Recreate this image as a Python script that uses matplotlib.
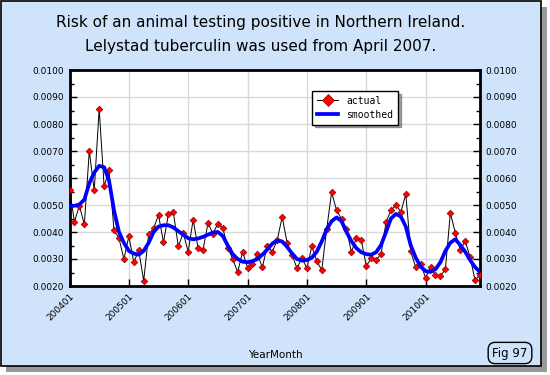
import numpy as np
import matplotlib.pyplot as plt
from matplotlib.patches import Rectangle
from matplotlib.ticker import MultipleLocator, FormatStrFormatter

# -----------------------------------
# Data (monthly, 200401 - 201012)
# -----------------------------------
year_month = [f"{2004 + i // 12}{i % 12 + 1:02d}" for i in range(84)]

tick_labels = ["200401", "200501", "200601", "200701", "200801", "200901", "201001"]

actual = [
    0.00557, 0.00438, 0.00497, 0.00428, 0.00700, 0.00554, 0.00856, 0.00569,
    0.00628, 0.00406, 0.00377, 0.00300, 0.00384, 0.00288, 0.00332, 0.00219,
    0.00391, 0.00414, 0.00463, 0.00362, 0.00466, 0.00473, 0.00347, 0.00396,
    0.00327, 0.00446, 0.00340, 0.00334, 0.00433, 0.00394, 0.00431, 0.00414,
    0.00342, 0.00300, 0.00251, 0.00327, 0.00268, 0.00280, 0.00317, 0.00270,
    0.00349, 0.00327, 0.00370, 0.00456, 0.00360, 0.00315, 0.00266, 0.00303,
    0.00266, 0.00347, 0.00293, 0.00258, 0.00411, 0.00547, 0.00480, 0.00448,
    0.00410, 0.00326, 0.00377, 0.00370, 0.00274, 0.00302, 0.00296, 0.00318,
    0.00437, 0.00480, 0.00500, 0.00475, 0.00540, 0.00328, 0.00269, 0.00280,
    0.00231, 0.00270, 0.00240, 0.00237, 0.00262, 0.00470, 0.00398, 0.00332,
    0.00367, 0.00307, 0.00221, 0.00240,
]

smoothed = [
    0.00497, 0.00497, 0.00502, 0.00520, 0.00580, 0.00620, 0.00645, 0.00640,
    0.00590, 0.00480, 0.00400, 0.00360, 0.00330, 0.00320, 0.00316, 0.00330,
    0.00360, 0.00400, 0.00420, 0.00425, 0.00425, 0.00417, 0.00403, 0.00390,
    0.00377, 0.00373, 0.00376, 0.00382, 0.00390, 0.00398, 0.00400, 0.00385,
    0.00350, 0.00318, 0.00300, 0.00290, 0.00288, 0.00292, 0.00300, 0.00316,
    0.00335, 0.00357, 0.00369, 0.00365, 0.00345, 0.00320, 0.00300, 0.00294,
    0.00296, 0.00305, 0.00327, 0.00365, 0.00410, 0.00440, 0.00454, 0.00440,
    0.00400, 0.00366, 0.00340, 0.00325, 0.00318, 0.00316, 0.00325, 0.00352,
    0.00400, 0.00450, 0.00467, 0.00457, 0.00420, 0.00350, 0.00305, 0.00272,
    0.00255, 0.00252, 0.00262, 0.00288, 0.00330, 0.00360, 0.00373, 0.00352,
    0.00327, 0.00296, 0.00270, 0.00252,
]

# -----------------------------------
# Figure and frame
# -----------------------------------
W, H = 550, 375
BG = "#cfe4fa"

fig = plt.figure(figsize=(W / 100, H / 100), dpi=100)
fig.patch.set_facecolor("white")

# shadow + panel (behind the axes)
fig.patches.append(Rectangle((6 / W, 1 - 372 / H), 541 / W, 365 / H,
                             transform=fig.transFigure, facecolor="#9a9a9a",
                             edgecolor="none", zorder=-3))
fig.patches.append(Rectangle((1 / W, 1 - 366 / H), 540 / W, 365 / H,
                             transform=fig.transFigure, facecolor=BG,
                             edgecolor="black", linewidth=1.2, zorder=-2))

# -----------------------------------
# Axes
# -----------------------------------
ax = fig.add_axes([69.5 / W, 1 - 286 / H, (480 - 69.5) / W, (286 - 70) / H])
ax.set_facecolor("white")

x = np.arange(len(year_month))

ax.plot(x, actual, color="black", lw=0.7, marker="D", ms=3.4,
        mfc="red", mec="#8b0000", mew=0.5, label="actual", zorder=3)
ax.plot(x, smoothed, color="#0000ff", lw=2.7, label="smoothed", zorder=4)

ax.set_xlim(0, len(year_month) - 1)
ax.set_ylim(0.002, 0.010)

tick_pos = [year_month.index(t) for t in tick_labels]
ax.set_xticks(tick_pos)
ax.set_xticklabels(tick_labels, rotation=45, ha="right", va="top",
                   rotation_mode="anchor")

ax.yaxis.set_major_locator(MultipleLocator(0.001))
ax.yaxis.set_minor_locator(MultipleLocator(0.0005))
ax.yaxis.set_major_formatter(FormatStrFormatter("%.4f"))

ax.tick_params(axis="both", which="major", direction="in", length=5,
               width=1, labelsize=6.5, right=True, labelright=True, pad=4)
ax.tick_params(axis="y", which="minor", direction="in", length=3,
               width=1, right=True)

ax.grid(True, which="major", color="#d9d9d9", lw=1)
ax.set_axisbelow(True)

for s in ax.spines.values():
    s.set_linewidth(2)

# -----------------------------------
# Legend
# -----------------------------------
leg = ax.legend(loc="upper left", bbox_to_anchor=(0.591, 0.903),
                borderaxespad=0, fancybox=False, shadow=True,
                edgecolor="black", framealpha=1, markerscale=1.8,
                prop={"family": "DejaVu Sans Mono", "size": 7},
                handlelength=2.2, borderpad=0.5, labelspacing=0.4)
leg.get_frame().set_linewidth(1)

# -----------------------------------
# Text
# -----------------------------------
fig.text(261 / W, 1 - 22 / H, "Risk of an animal testing positive in Northern Ireland.",
         ha="center", va="center", fontsize=11)
fig.text(261 / W, 1 - 47 / H, "Lelystad tuberculin was used from April 2007.",
         ha="center", va="center", fontsize=11)

fig.text(275 / W, 1 - 355 / H, "YearMonth", ha="center", va="center", fontsize=7.5)

fig.text(510 / W, 1 - 353 / H, "Fig 97", ha="center", va="center", fontsize=8.5,
         bbox=dict(boxstyle="round,pad=0.35,rounding_size=0.6", fc=BG, ec="black", lw=1))

plt.savefig("out.png", dpi=100, facecolor=fig.get_facecolor())
